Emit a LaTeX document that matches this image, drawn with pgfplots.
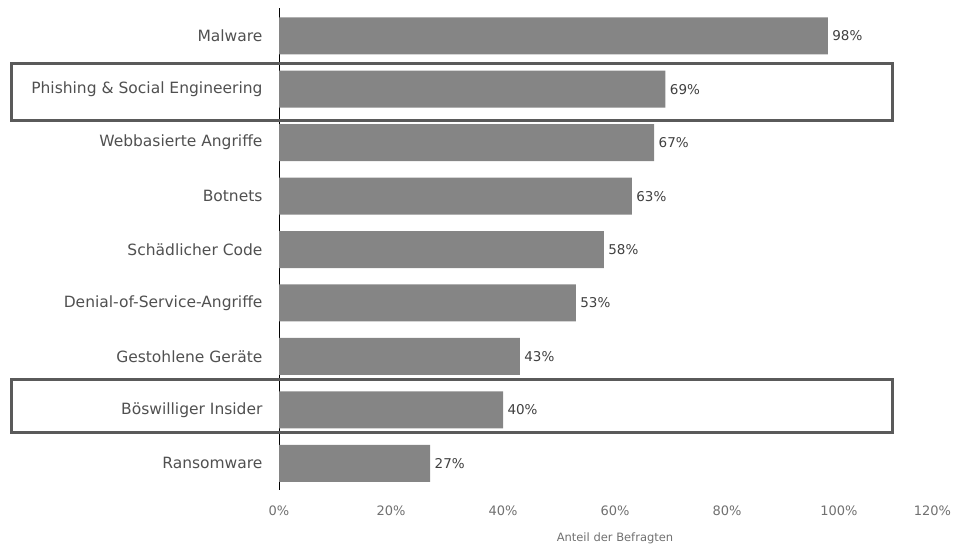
\documentclass[border=0pt]{standalone}
\usepackage{pgfplots}
\pgfplotsset{compat=1.18}
\usepackage{fontspec}
\setmainfont{DejaVu Sans}
\definecolor{barc}{HTML}{858585}
\definecolor{boxc}{HTML}{5A5A5A}
\definecolor{labc}{HTML}{505050}
\definecolor{tickc}{HTML}{707070}
\definecolor{valc}{HTML}{404040}
\begin{document}
\begin{tikzpicture}
\path[use as bounding box] (0,0) rectangle (961pt,547pt);
\begin{axis}[
  at={(279pt,57pt)}, anchor=south west,
  scale only axis, width=672pt, height=482pt,
  xmin=0, xmax=120, ymin=-0.52, ymax=8.5,
  y dir=reverse,
  /pgf/number format/assume math mode=true,
  axis lines=left, axis line style={-},
  x axis line style={draw=none},
  y axis line style={draw=black, line width=0.9pt},
  major tick length=0pt,
  xtick={0,20,40,60,80,100,120},
  xticklabels={0\%,20\%,40\%,60\%,80\%,100\%,\llap{120\%}},
  xticklabel style={font=\fontsize{13}{15}\selectfont, text=tickc, yshift=-12pt},
  ytick={0,...,8},
  yticklabels={Malware, Phishing \& Social Engineering, Webbasierte Angriffe, Botnets, Schädlicher Code, Denial-of-Service-Angriffe, Gestohlene Geräte, Böswilliger Insider, Ransomware},
  yticklabel style={font=\fontsize{15.5}{18}\selectfont, text=labc, xshift=-13pt},
  xlabel={Anteil der Befragten},
  xlabel style={font=\fontsize{11.5}{13}\selectfont, text=tickc, yshift=-11pt},
  clip=false,
  nodes near coords={\pgfmathprintnumber{\pgfplotspointmeta}\%},
  point meta=x,
  every node near coord/.append style={font=\fontsize{13.5}{16}\selectfont, text=valc, xshift=1pt},
]
\addplot[xbar, fill=barc, draw=none, bar width=37pt] coordinates {
(98,0) (69,1) (67,2) (63,3) (58,4) (53,5) (43,6) (40,7) (27,8)};
\draw[boxc, line width=3pt] (axis cs:-47.7,0.51) rectangle (axis cs:109.6,1.58);
\draw[boxc, line width=3pt] (axis cs:-47.7,6.43) rectangle (axis cs:109.6,7.42);
\end{axis}
\end{tikzpicture}
\end{document}
